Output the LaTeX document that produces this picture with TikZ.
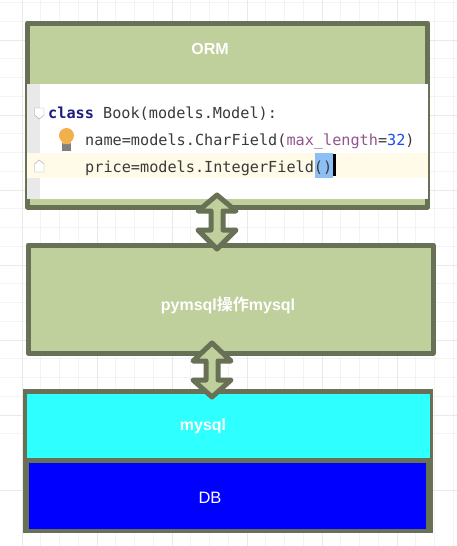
\documentclass[tikz,border=0pt]{standalone}
\usepackage{fontspec}
\setmainfont{Liberation Sans}
\setmonofont{DejaVu Sans Mono}
\newfontfamily\cjkfont{Noto Sans CJK SC}[BoldFont={Noto Sans CJK SC Bold}]
\definecolor{boxgreen}{HTML}{BFD09C}
\definecolor{boxedge}{HTML}{687056}
\definecolor{gridmin}{HTML}{F3F3F3}
\definecolor{gridmaj}{HTML}{E9E9E9}
\definecolor{cyanbox}{HTML}{2EFFFF}
\definecolor{bluebox}{HTML}{0000FF}
\definecolor{kw}{HTML}{1D1D80}
\definecolor{codetxt}{HTML}{3A3A3A}
\definecolor{param}{HTML}{94558D}
\definecolor{num}{HTML}{1750EB}
\definecolor{curline}{HTML}{FFFBE8}
\definecolor{sel}{HTML}{8CC0F5}
\definecolor{gutter}{HTML}{E9E9E9}
\definecolor{bulb}{HTML}{F2B04C}
\tikzset{
  layerbox/.style={draw=boxedge,line width=5pt,line join=round},
  blocktip/.style={draw=boxedge,line width=5pt,line join=round,fill=boxgreen},
  caption/.style={text=white,font=\fontsize{16}{18}\selectfont\bfseries,inner sep=0pt},
  code/.style={anchor=base west,inner sep=0pt,font=\fontsize{15.2}{17}\selectfont\ttfamily,text=codetxt},
}
\begin{document}
\begin{tikzpicture}[x=1pt,y=-1pt]
\useasboundingbox (0,0) rectangle (457,546);
% grid paper
\fill[white] (0,0) rectangle (457,546);
\foreach \k in {0,...,23} {
  \draw[gridmin,line width=.7pt] ({22+18.75*\k},0) -- ({22+18.75*\k},546);
  \draw[gridmin,line width=.7pt] (0,{2.5+18.75*\k}) -- (457,{2.5+18.75*\k});
}
\foreach \k in {0,...,5} \draw[gridmaj,line width=.8pt] ({22+75*\k},0) -- ({22+75*\k},546);
\foreach \k in {0,...,6} \draw[gridmaj,line width=.8pt] (0,{40+75*\k}) -- (457,{40+75*\k});
% ORM box
\path[layerbox,fill=boxgreen] (27.5,23) rectangle (427.5,207);
\fill[white] (27,84) rectangle (428,199);
\fill[gutter] (27,84) rectangle (40,199);
\fill[curline] (27,153) rectangle (428,178);
\fill[sel] (315,153) rectangle (333,178);
\fill[black] (333,154) rectangle (335.5,176);
% gutter marks
\fill[white,draw=gutter!70!black,line width=.4pt] (34.5,108) -- (44,108) -- (44,115) -- (39.2,119) -- (34.5,115) -- cycle;
\fill[white,draw=gutter!70!black,line width=.4pt] (39.2,160) -- (44,164) -- (44,172) -- (34.5,172) -- (34.5,164) -- cycle;
% light bulb
\fill[gray] (62,143) rectangle (71,151);
\fill[bulb] (66.5,135.5) circle (7.5);
\fill[bulb] (60.5,138) -- (72.5,138) -- (70,144) -- (63,144) -- cycle;
% code
\node[code] (l1) at (48,118) {\textcolor{kw}{\bfseries class} Book(models.Model):};
\node[code] (l2) at (85,145) {name=models.CharField(\textcolor{param}{max\_length}=\textcolor{num}{32})};
\node[code] (l3) at (85,172) {price=models.IntegerField()};
\node[caption] (orm) at (210,49) {ORM};
% pymsql box
\path[layerbox,fill=boxgreen] (28,245) rectangle (433,353);
\node[caption] (pym) at (228,305) {pymsql{\cjkfont\bfseries 操作}mysql};
% mysql + DB
\fill[boxedge] (22.5,389) rectangle (433,533);
\fill[cyanbox] (27,394) rectangle (430,458);
\fill[bluebox] (29,463) rectangle (426,529);
\node[caption] (my) at (203,426) {mysql};
\node[caption,font=\fontsize{16.5}{18}\selectfont] (db) at (210,498) {DB};
% double arrows
\path[blocktip] (217,195) -- (236,211) -- (223,211) -- (223,230) -- (236,230) -- (217,249) -- (198,230) -- (211,230) -- (211,211) -- (198,211) -- cycle;
\path[blocktip] (212,343) -- (231,361) -- (218,361) -- (218,380) -- (231,380) -- (212,397) -- (193,380) -- (206,380) -- (206,361) -- (193,361) -- cycle;
\end{tikzpicture}
\end{document}
